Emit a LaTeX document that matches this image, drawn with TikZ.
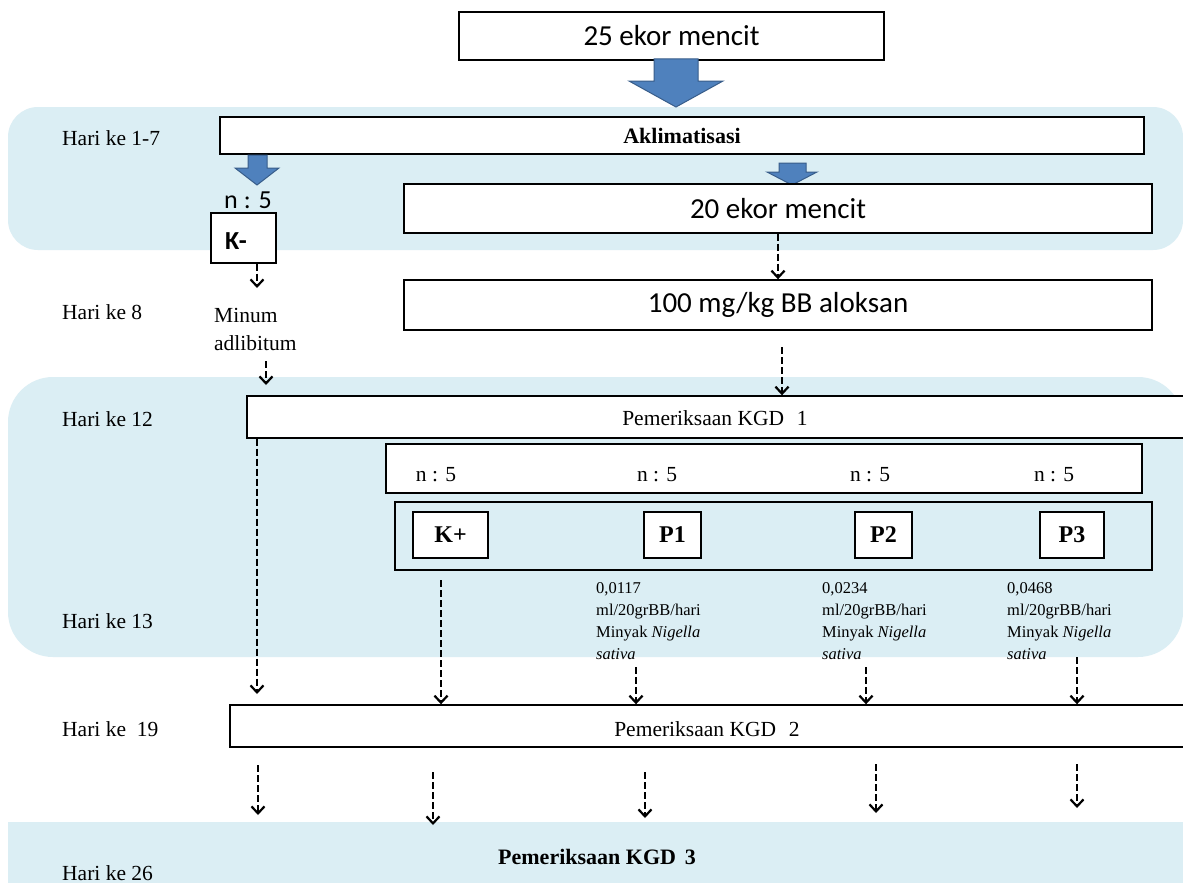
\documentclass[tikz,border=0pt]{standalone}
\usepackage{fontspec}
\setmainfont{Liberation Serif}
\newfontfamily\calibri{Carlito}
\usetikzlibrary{arrows.meta}
\definecolor{band}{RGB}{219,238,244}
\definecolor{arrfill}{RGB}{79,129,189}
\definecolor{arrline}{RGB}{56,93,138}
\tikzset{
  box/.style={draw=black, line width=1.4pt, fill=white, inner sep=0pt},
  grp/.style={draw=black, line width=1.4pt, inner sep=0pt},
  darr/.style={draw=black, line width=2.4pt, dash pattern=on 7pt off 3pt,
    -{Straight Barb[length=7pt,width=13pt,line width=2.2pt]}},
  blockarr/.style={fill=arrfill, draw=arrline, line width=1pt, line join=miter},
  tnr/.style={font=\fontsize{21.5}{25}\selectfont, inner sep=0pt},
  tnrb/.style={font=\fontsize{22}{26}\selectfont\bfseries, inner sep=0pt},
  tbig/.style={font=\fontsize{24}{28}\selectfont\bfseries},
  cal/.style={font=\fontsize{29}{35}\selectfont\calibri},
  calsm/.style={font=\fontsize{26}{30}\selectfont\calibri, inner sep=0pt},
  dose/.style={font=\fontsize{16.5}{22}\selectfont, align=left, inner sep=0pt, anchor=north west},
}
\begin{document}
\begin{tikzpicture}[x=1pt,y=-1pt]
\useasboundingbox (0,0) rectangle (1183,883);
\fill[white] (0,0) rectangle (1183,883);
\clip (0,0) rectangle (1183,883);
% bands
\fill[band, rounded corners=30pt] (8,107) rectangle (1183,250);
\fill[band, rounded corners=45pt] (8,377) rectangle (1183,657);
\fill[band] (8,822) rectangle (1183,900);

% day labels
\node[tnr, anchor=west] (h1) at (62,138) {Hari ke 1-7};
\node[tnr, anchor=west] (h8) at (62,312) {Hari ke 8};
\node[tnr, anchor=west] (h12) at (62,419) {Hari ke 12};
\node[tnr, anchor=west] (h13) at (62,621) {Hari ke 13};
\node[tnr, anchor=west] (h19) at (62,729) {Hari ke \ 19};
\node[tnr, anchor=west] (h26) at (62,873) {Hari ke 26};

% top box
\node[box, cal, minimum width=425pt, minimum height=48pt] (n25) at (671.5,36) {25 ekor mencit};
% big block arrow
\draw[blockarr] (654,59) -- (698,59) -- (698,81) -- (723,81) -- (676,107) -- (629,81) -- (654,81) -- cycle;

% aklimatisasi
\node[box, tnrb, minimum width=924pt, minimum height=37pt] (akl) at (682,135.5) {Aklimatisasi};
% small block arrows
\draw[blockarr] (248,155) -- (267,155) -- (267,168) -- (279,168) -- (257,185) -- (235,168) -- (248,168) -- cycle;
\draw[blockarr] (779,163) -- (806,163) -- (806,172) -- (817,172) -- (792,185) -- (767,172) -- (779,172) -- cycle;

% K- branch
\node[calsm] (kn) at (248,200) {n : 5};
\node[box, minimum width=65pt, minimum height=50pt] (km) at (243.5,238) {};
\node[calsm, font=\fontsize{26}{30}\selectfont\calibri\bfseries, anchor=west] (kmt) at (225,241) {K-};
\node[tnr, anchor=north west, align=left, font=\fontsize{21.5}{28}\selectfont] (minum) at (214,308) {Minum\\adlibitum};

% 20 ekor / aloksan
\node[box, cal, minimum width=748pt, minimum height=49pt] (n20) at (778,208.5) {20 ekor mencit};
\node[box, cal, minimum width=748pt, minimum height=50pt] (n100) at (778,305) {100 mg/kg BB aloksan};

% KGD 1
\node[box, minimum width=943pt, minimum height=42pt] (kgd1) at (718.5,417) {};
\node[tnr] (kgd1t) at (715,418) {Pemeriksaan KGD\hspace{0.6em}1};

% n : 5 box
\node[box, minimum width=756pt, minimum height=49pt] (nbox) at (764,468.5) {};
\node[tnr] (nk) at (436,475) {n : 5};
\node[tnr] (n1) at (657,475) {n : 5};
\node[tnr] (n2) at (870,475) {n : 5};
\node[tnr] (n3) at (1054,475) {n : 5};

% group box
\node[grp, minimum width=757pt, minimum height=68pt] (grpbox) at (773.5,536) {};
\node[box, tbig, minimum width=75pt, minimum height=46pt] (kp) at (450.5,535) {K+};
\node[box, tbig, minimum width=57pt, minimum height=46pt] (p1) at (672.5,535) {P1};
\node[box, tbig, minimum width=57pt, minimum height=46pt] (p2) at (883.5,535) {P2};
\node[box, tbig, minimum width=64pt, minimum height=46pt] (p3) at (1072,535) {P3};

% doses
\node[dose] (d1) at (596,582.5) {0,0117\\ml/20grBB/hari\\Minyak \textit{Nigella}\\\textit{sativa}};
\node[dose] (d2) at (822,582.5) {0,0234\\ml/20grBB/hari\\Minyak \textit{Nigella}\\\textit{sativa}};
\node[dose] (d3) at (1007,582.5) {0,0468\\ml/20grBB/hari\\Minyak \textit{Nigella}\\\textit{sativa}};

% KGD 2
\node[box, minimum width=960pt, minimum height=42pt] (kgd2) at (710,726) {};
\node[tnr] (kgd2t) at (707,729) {Pemeriksaan KGD\hspace{0.6em}2};

% KGD 3
\node[tnrb] (kgd3) at (597,857) {Pemeriksaan KGD\hspace{0.4em}3};

% dashed connectors
\draw[darr] (n20.south) -- (n100.north);
\coordinate (a1) at (257,288);
\draw[darr] (km.south -| a1) -- (a1);
\coordinate (a2s) at (266,361);
\coordinate (a2e) at (266,385);
\draw[darr] (a2s) -- (a2e);
\coordinate (a3) at (782,347);
\draw[darr] (a3) -- (kgd1.north -| a3);
\coordinate (a4) at (257,694);
\draw[darr] (kgd1.south -| a4) -- (a4);
\coordinate (a5) at (441,580);
\draw[darr] (a5) -- (kgd2.north -| a5);
\coordinate (a6) at (636,667);
\draw[darr] (a6) -- (kgd2.north -| a6);
\coordinate (a7) at (866,667);
\draw[darr] (a7) -- (kgd2.north -| a7);
\coordinate (a8) at (1077,657);
\draw[darr] (a8) -- (kgd2.north -| a8);
% bottom arrows
\coordinate (b1s) at (258,765); \coordinate (b1e) at (258,815);
\coordinate (b2s) at (433,772); \coordinate (b2e) at (433,825);
\coordinate (b3s) at (645,772); \coordinate (b3e) at (645,818);
\coordinate (b4s) at (876,764); \coordinate (b4e) at (876,813);
\coordinate (b5s) at (1077,764); \coordinate (b5e) at (1077,808);
\draw[darr] (b1s) -- (b1e);
\draw[darr] (b2s) -- (b2e);
\draw[darr] (b3s) -- (b3e);
\draw[darr] (b4s) -- (b4e);
\draw[darr] (b5s) -- (b5e);
\end{tikzpicture}
\end{document}
